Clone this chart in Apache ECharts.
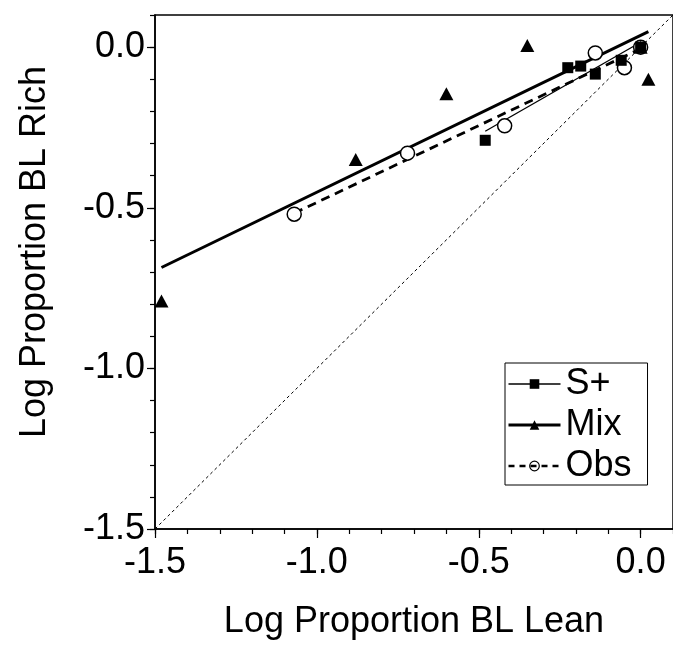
<!DOCTYPE html>
<html><head><meta charset="utf-8">
<script src="https://cdn.jsdelivr.net/npm/echarts@6/dist/echarts.min.js"></script>
<style>html,body{margin:0;padding:0;background:#fff}#c{width:673px;height:645px}</style>
</head><body><div id="c"></div>
<script>
// Scatter points
const sPlusPts = [[-0.48,-0.29],[-0.225,-0.064],[-0.185,-0.059],[-0.14,-0.084],[-0.06,-0.041],[0,0]];
const mixPts   = [[-1.48,-0.79],[-0.88,-0.35],[-0.60,-0.145],[-0.35,0.005],[0.024,-0.10],[0,0]];
const obsPts   = [[-1.07,-0.52],[-0.72,-0.33],[-0.42,-0.245],[-0.14,-0.018],[-0.05,-0.064],[0,0]];
// Fitted lines (end points)
const sPlusFit = [[-0.48,-0.262],[0,0.015]];
const mixFit   = [[-1.48,-0.686],[0.024,0.048]];
const obsFit   = [[-1.07,-0.517],[0,-0.005]];
const identityLine = [[-1.5,-1.5],[0.1,0.1]];
// Tick labels
const xTicks = ['-1.5','-1.0','-0.5','0.0'];
const yTicks = ['-1.5','-1.0','-0.5','0.0'];
const seriesNames = ['S+','Mix','Obs'];

const FONT = 'Liberation Sans, Arial, Helvetica, sans-serif';
const FS = 36;
function fmt(list){
  return function(v){
    let s = Number(v).toFixed(1);
    if (s === '-0.0') s = '0.0';
    return list.indexOf(s) >= 0 ? s : '';
  };
}
const axisMin = -1.5, axisMax = 0.1;

const chart = echarts.init(document.getElementById('c'), null, {renderer:'canvas'});
chart.setOption({
  animation: false,
  backgroundColor: '#fff',
  grid: {left:155, top:15, right:-3.6, bottom:110.7, show:true, borderColor:'#000', borderWidth:1.5, containLabel:false},
  legend: {
    orient:'vertical', left:505, top:363,
    padding:[3,16,1,2],
    itemWidth:52, itemHeight:12, itemGap:5,
    borderColor:'#000', borderWidth:1, backgroundColor:'#fff',
    textStyle:{fontFamily:FONT, fontSize:FS, color:'#000', lineHeight:36},
    data:[
      {name:seriesNames[0], lineStyle:{width:1.5, color:'#000'}},
      {name:seriesNames[1], lineStyle:{width:3, color:'#000'}},
      {name:seriesNames[2], lineStyle:{width:2.5, color:'#000', type:[6,5]},
       itemStyle:{color:'rgba(255,255,255,0)', borderColor:'#000', borderWidth:1.2}}
    ]
  },
  xAxis: [
    {type:'value', min:axisMin, max:axisMax, interval:0.5, position:'bottom',
     name:'Log Proportion BL Lean', nameLocation:'middle', nameGap:75,
     nameTextStyle:{fontFamily:FONT, fontSize:FS, color:'#000'},
     axisLine:{show:true, onZero:false, lineStyle:{color:'#000', width:1.5}},
     axisTick:{show:true, inside:false, length:9, lineStyle:{color:'#000', width:1.2}},
     axisLabel:{show:true, margin:16, fontFamily:FONT, fontSize:FS, color:'#000', formatter:fmt(xTicks), showMaxLabel:false},
     splitLine:{show:false}},
    {type:'value', min:axisMin, max:axisMax, interval:0.1, position:'bottom',
     axisLine:{show:false, onZero:false},
     axisTick:{show:true, inside:false, length:5, lineStyle:{color:'#000', width:1.2}},
     axisLabel:{show:false}, splitLine:{show:false}}
  ],
  yAxis: [
    {type:'value', min:axisMin, max:axisMax, interval:0.5, position:'left',
     name:'Log Proportion BL Rich', nameLocation:'middle', nameGap:102,
     nameTextStyle:{fontFamily:FONT, fontSize:FS, color:'#000', padding:[0,0,0,40]},
     axisLine:{show:true, onZero:false, lineStyle:{color:'#000', width:1.5}},
     axisTick:{show:true, inside:false, length:8, lineStyle:{color:'#000', width:1.2}},
     axisLabel:{show:true, margin:10, fontFamily:FONT, fontSize:FS, color:'#000', formatter:fmt(yTicks), showMaxLabel:false},
     splitLine:{show:false}},
    {type:'value', min:axisMin, max:axisMax, interval:0.1, position:'left',
     axisLine:{show:false, onZero:false},
     axisTick:{show:true, inside:false, length:5, lineStyle:{color:'#000', width:1.2}},
     axisLabel:{show:false}, splitLine:{show:false}}
  ],
  series: [
    {type:'line', name:'identity', data:identityLine, symbol:'none', silent:true, z:1,
     lineStyle:{color:'#000', width:1, type:[3,3]}},
    {type:'line', name:seriesNames[0], data:sPlusFit, symbol:'rect', showSymbol:false, z:2,
     itemStyle:{color:'#000'}, lineStyle:{color:'#000', width:1.3}},
    {type:'line', name:seriesNames[1], data:mixFit, symbol:'triangle', showSymbol:false, z:2,
     itemStyle:{color:'#000'}, lineStyle:{color:'#000', width:3}},
    {type:'line', name:seriesNames[2], data:obsFit, symbol:'circle', showSymbol:false, z:2,
     itemStyle:{color:'#000'}, lineStyle:{color:'#000', width:2.8, type:[9,6]}},
    {type:'scatter', name:'Obs pts', data:obsPts, symbol:'circle', symbolSize:14, z:3,
     itemStyle:{color:'#fff', borderColor:'#000', borderWidth:1.5, opacity:1}},
    {type:'scatter', name:'S+ pts', data:sPlusPts, symbol:'rect', symbolSize:11, z:4,
     itemStyle:{color:'#000', opacity:1}},
    {type:'scatter', name:'Mix pts', data:mixPts, symbol:'triangle', symbolSize:[14,13], z:4,
     itemStyle:{color:'#000', opacity:1}}
  ]
});
</script></body></html>
